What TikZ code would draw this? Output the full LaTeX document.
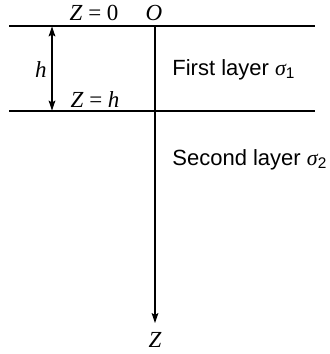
\documentclass[tikz,border=0pt]{standalone}
\usepackage{fontspec}
\setmainfont{Liberation Serif}
\setsansfont{Liberation Sans}
\usetikzlibrary{arrows.meta}
\begin{document}
\begin{tikzpicture}[x=0.5pt,y=-0.5pt,
  line/.style={line width=0.55pt},
  tip/.style={-{Stealth[length=5pt,width=3.4pt,inset=1pt]}},
  both/.style={{Stealth[length=5pt,width=3.4pt,inset=1pt]}-{Stealth[length=5pt,width=3.4pt,inset=1pt]}},
  mlab/.style={inner sep=0pt,font=\fontsize{11.5}{13}\selectfont},
  slab/.style={inner sep=0pt,anchor=west,font=\sffamily\fontsize{11}{13}\selectfont}]
\useasboundingbox (0,0) rectangle (329,354);
% layer boundaries
\coordinate (t1) at (9,26);
\coordinate (t2) at (315,26);
\coordinate (b1) at (9,111);
\coordinate (b2) at (315,111);
\draw[line] (t1) -- (t2);
\draw[line] (b1) -- (b2);
% Z axis
\coordinate (o) at (155,26);
\coordinate (zend) at (155,323);
\draw[line,tip] (o) -- (zend);
% h dimension
\coordinate (h1) at (52,26.5);
\coordinate (h2) at (52,110.5);
\draw[line,both] (h1) -- (h2);
% labels
\node[mlab] (z0) at (94,13) {\textit{Z} = 0};
\node[mlab] (O) at (154,13) {\textit{O}};
\node[mlab] (zh) at (95,100) {\textit{Z} = \textit{h}};
\node[mlab] (h) at (41,70) {\textit{h}};
\node[mlab] (Z) at (155,340) {\textit{Z}};
\node[slab] (l1) at (172,70) {First layer {\rmfamily\itshape σ}\textsubscript{1}};
\node[slab] (l2) at (172,160) {Second layer {\rmfamily\itshape σ}\textsubscript{2}};
\end{tikzpicture}
\end{document}
